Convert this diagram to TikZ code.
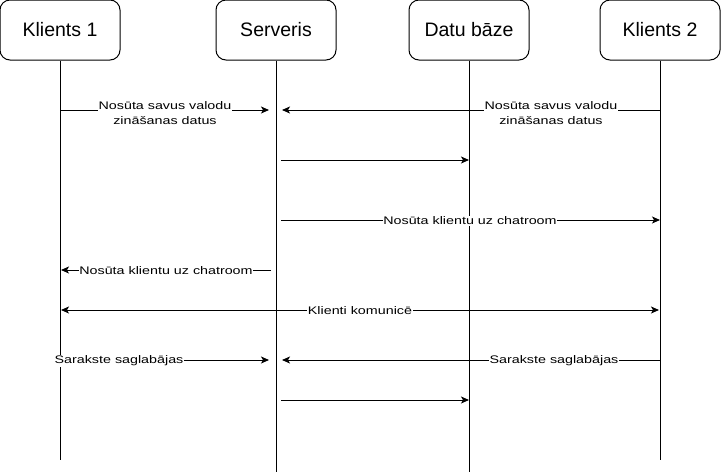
\documentclass[tikz,border=0pt]{standalone}
\usepackage{fontspec}
\setmainfont{Liberation Sans}
\newfontfamily\lblfont[FakeStretch=1.3]{Liberation Sans}
\usetikzlibrary{arrows.meta}
\begin{document}
\begin{tikzpicture}[x=1pt,y=-1pt,
  actor/.style={draw, line width=1pt, rounded corners=10pt, minimum width=120pt,
    minimum height=60pt, inner sep=0pt, font=\fontsize{19.5}{22}\selectfont},
  life/.style={line width=1pt},
  msg/.style={line width=1pt, -{Stealth[length=8pt,width=7pt,inset=2pt]}},
  bimsg/.style={line width=1pt, {Stealth[length=8pt,width=7pt,inset=2pt]}-{Stealth[length=8pt,width=7pt,inset=2pt]}},
  lbl/.style={fill=white, inner sep=0.5pt, align=center,
    font=\lblfont\fontsize{11}{14.2}\selectfont}]
\useasboundingbox (0,0) rectangle (721,472);
% actors
\node[actor] (k1) at (60,30) {Klients 1};
\node[actor] (srv) at (276,30) {Serveris};
\node[actor] (db) at (469,30) {Datu bāze};
\node[actor] (k2) at (660,30) {Klients 2};
% lifeline ends
\coordinate (k1e) at (60,460);
\coordinate (srve) at (276,472);
\coordinate (dbe) at (469,472);
\coordinate (k2e) at (660,460);
\draw[life] (k1.south) -- (k1e);
\draw[life] (srv.south) -- (srve);
\draw[life] (db.south) -- (dbe);
\draw[life] (k2.south) -- (k2e);
% message endpoints
\coordinate (a1) at (60,110);  \coordinate (b1) at (269,110);
\coordinate (a2) at (660,110); \coordinate (b2) at (282,110);
\coordinate (a3) at (281,160); \coordinate (b3) at (469,160);
\coordinate (a4) at (281,220); \coordinate (b4) at (660,220);
\coordinate (a5) at (271,270); \coordinate (b5) at (61,270);
\coordinate (a6) at (61,310);  \coordinate (b6) at (659,310);
\coordinate (a7) at (60,360);  \coordinate (b7) at (269,360);
\coordinate (a8) at (660,360); \coordinate (b8) at (282,360);
\coordinate (a9) at (281,400); \coordinate (b9) at (469,400);
\draw[msg] (a1) -- (b1);
\draw[msg] (a2) -- (b2);
\draw[msg] (a3) -- (b3);
\draw[msg] (a4) -- (b4);
\draw[msg] (a5) -- (b5);
\draw[bimsg] (a6) -- (b6);
\draw[msg] (a7) -- (b7);
\draw[msg] (a8) -- (b8);
\draw[msg] (a9) -- (b9);
% labels
\node[lbl] (l1) at (165,113) {Nosūta savus valodu\\zināšanas datus};
\node[lbl] (l2) at (551,113) {Nosūta savus valodu\\zināšanas datus};
\node[lbl] (l4) at (470,221) {Nosūta klientu uz chatroom};
\node[lbl] (l5) at (166,271) {Nosūta klientu uz chatroom};
\node[lbl] (l6) at (360,311) {Klienti komunicē};
\node[lbl] (l7) at (119,361) {Sarakste saglabājas};
\node[lbl] (l8) at (554,361) {Sarakste saglabājas};
\end{tikzpicture}
\end{document}
